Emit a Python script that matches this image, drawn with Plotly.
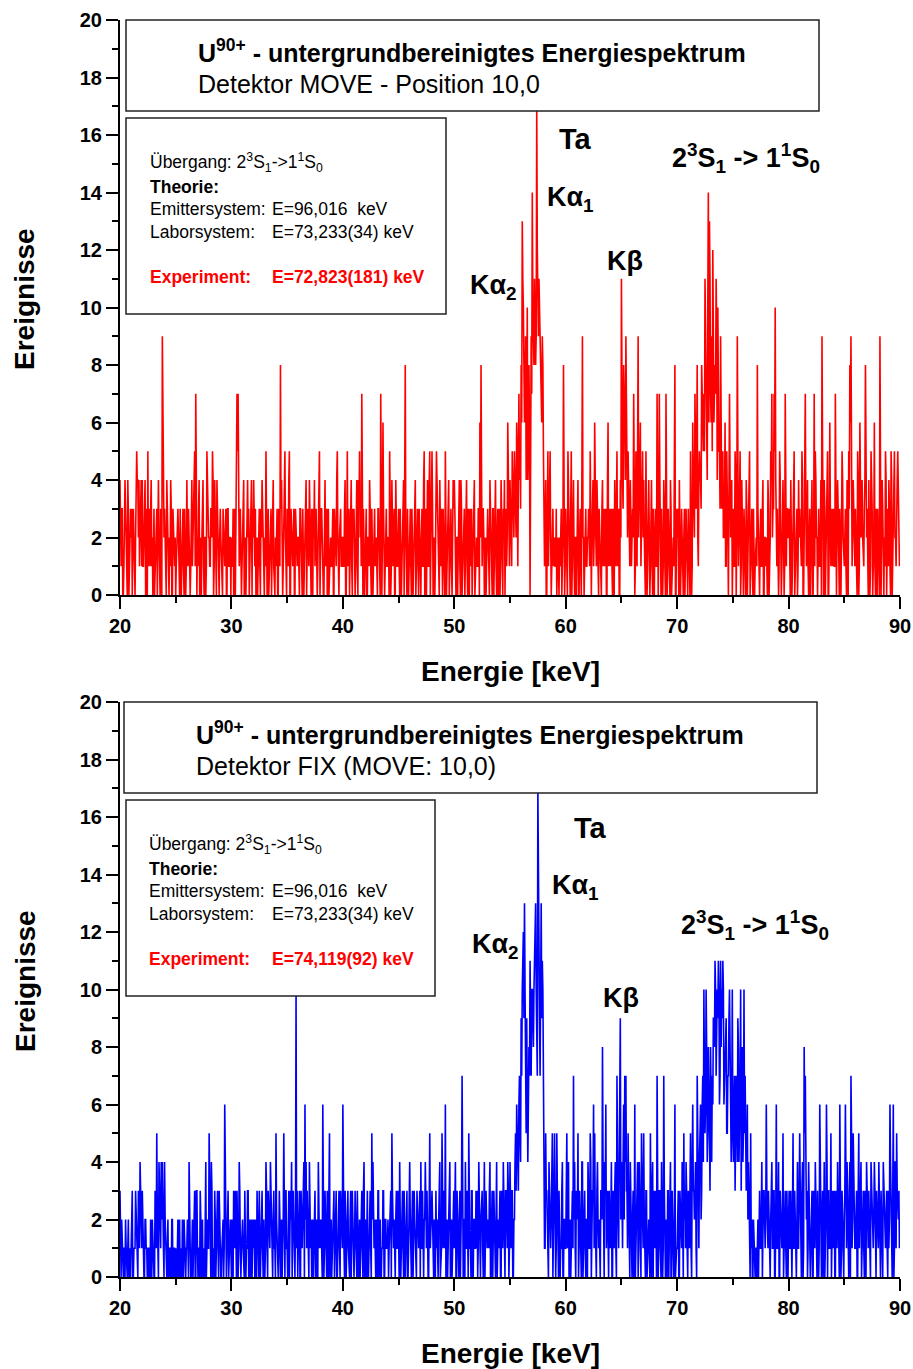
import plotly.graph_objects as go

FONT = "Liberation Sans"

# ---------------- data ----------------
energy_start = 20.0   # keV
channel_width = 0.05  # keV per channel
# counts per channel, one string per keV, digits in base 36 (a=10 ... h=17).
# "even" rows hold the channels at E = k + 0.1*i, "odd" rows the channels at E = k + 0.1*i + 0.05
move_even_rows = [
    "4130231402", "2031254424", "4130253142", "2013220296", "3142013021",
    "0231302130", "4120312570", "1420312053", "2135042430", "3102130312",
    "2103477130", "2410320143", "4102130231", "2503120310", "1302840251",
    "3150213021", "2031302412", "4130213025", "2310420312", "1302150231",
    "2140520313", "3021453702", "1302413021", "2031706213", "1250413021",
    "3021408130", "2130241302", "0315204153", "5021530412", "3150241304",
    "4120314023", "1402310241", "2136813021", "3142031403", "2041342162",
    "4253546175", "8da6974809", "e9b8hbb979", "5140525031", "2102013180",
    "3152051402", "1403092131", "2150316241", "3104213062", "1302415304",
    "b486935241", "3705193625", "4150321402", "2170713041", "7031402180",
    "2140312031", "3150627381", "54867b84ed", "79c68b4659", "3526140724",
    "2150913042", "3140251302", "1282031402", "20315737a1", "3052140713",
    "2140351204", "3150271403", "1407520314", "9140250613", "2170413052",
    "1302589142", "3150624138", "2140531602", "3190412503", "4150352452",
]
move_odd_rows = [
    "2301420313", "3120342131", "1243012310", "3120413052", "2031240312",
    "1320213021", "2301423142", "3012402132", "1324130312", "2031203120",
    "1320354201", "3021431202", "2310213420", "1320231402", "2031321320",
    "2403120312", "1320213031", "2013420130", "3102133021", "2031420312",
    "1302132402", "2140321430", "3021302132", "1320423021", "2031320413",
    "1302432021", "3021302130", "2140321402", "3103420230", "2031302123",
    "3021403120", "2130231302", "1302432103", "2031302120", "3120203241",
    "3142425343", "6b874a5657", "a8a9c9a868", "3203142132", "1310220241",
    "2041303120", "3021420312", "3102423130", "2031320413", "2130231302",
    "5374624132", "2413524132", "2031402130", "3142402130", "4120312403",
    "3021203120", "2031423524", "4375596a6b", "658779a537", "4231523430",
    "3142425130", "2031302130", "2130213021", "1402423541", "2140321432",
    "3021402312", "2140432120", "3021423120", "5031402321", "3142301241",
    "2140364231", "2041432143", "3021402130", "2042301421", "3041321431",
]
fix_even_rows = [
    "3010120101", "1301320243", "3102101012", "1025143441", "4102010201",
    "1021012010", "1041021303", "0130210421", "5140130213", "1020601312",
    "0131230411", "2030131021", "1023130312", "0413241031", "5103021503",
    "12034120a3", "1301246431", "4102130141", "1060313051", "0231302131",
    "6130210312", "0313021304", "1030215410", "2031013021", "1023512031",
    "1402130201", "4120310213", "4102411052", "3120102415", "1261024102",
    "1402031702", "4125103021", "1041230412", "2140312041", "1302413240",
    "4130256465", "9acd6948b7", "a8bd9hb7db", "6153041252", "5051301402",
    "1530213740", "2512041302", "4150365132", "2038146203", "1402317259",
    "4167735241", "2061304152", "5130215043", "1270314071", "2031402061",
    "1302105341", "3150634172", "4637a5a485", "8469b7ab6b", "ab68957a46",
    "5637485a74", "a736425201", "0120314231", "6130241306", "1402151302",
    "2130512041", "5130872041", "1302413061", "2041603152", "1302416031",
    "2613047152", "1305241302", "4130421403", "2413042130", "1620614523",
]
fix_odd_rows = [
    "1201010210", "2011203131", "1021010201", "0312031210", "2010102010",
    "0102101201", "2010102031", "1021013021", "2031021301", "0121302021",
    "2013021302", "1021302102", "2102021301", "1302130210", "2012102031",
    "0312031210", "2031302120", "1210302012", "2031201302", "1302013021",
    "2021302031", "1202102130", "2101302120", "1302013021", "2130310213",
    "0213021302", "2031203120", "1302130213", "2013203012", "3102130213",
    "2031203120", "1302130213", "3120312031", "1302031202", "2031203131",
    "2302435374", "7b9a57679a", "9aca7d9a9a", "4132031304", "2130213021",
    "3142031213", "2031403120", "3142312041", "1324031302", "2031403142",
    "3424313020", "3102413021", "2031201302", "3041302130", "1302031201",
    "2031402130", "2314324051", "5264768573", "6798a89a78", "9a7857984a",
    "4756947385", "5342301020", "1023120312", "3120413021", "2031203130",
    "3102130213", "3041523120", "2031302140", "3102431203", "2031304120",
    "3142305231", "2031402130", "3120312302", "1302031213", "2413041321",
]
x_tick_values = [20, 30, 40, 50, 60, 70, 80, 90]
y_tick_values = [0, 2, 4, 6, 8, 10, 12, 14, 16, 18, 20]


def decode(even_rows, odd_rows):
    vals = []
    for ra, rb in zip(even_rows, odd_rows):
        for ca, cb in zip(ra, rb):
            vals.append(int(ca, 36))
            vals.append(int(cb, 36))
    return vals


move_counts = decode(move_even_rows, move_odd_rows)
fix_counts = decode(fix_even_rows, fix_odd_rows)
energies = [round(energy_start + channel_width * i, 3) for i in range(len(move_counts))]

# ---------------- geometry helpers (pixel -> paper) ----------------
W, H = 913, 1369
L, R, T, B = 120, 900, 20, 1277
PW, PH = R - L, B - T


def px(x):
    return (x - L) / PW


def py(y):
    return (B - y) / PH


fig = go.Figure()
fig.add_trace(go.Scatter(x=energies, y=move_counts, mode="lines",
                         line=dict(color="#ff0000", width=1.6), xaxis="x", yaxis="y",
                         showlegend=False, hoverinfo="skip"))
fig.add_trace(go.Scatter(x=energies, y=fix_counts, mode="lines",
                         line=dict(color="#0000ff", width=1.6), xaxis="x2", yaxis="y2",
                         showlegend=False, hoverinfo="skip"))

tickfont = dict(family=FONT, size=20, color="black", weight="bold")


def xaxis_cfg(anchor):
    return dict(anchor=anchor, domain=[0, 1], range=[20, 90], tickvals=x_tick_values,
                ticks="outside", ticklen=12, tickwidth=2, tickcolor="black",
                showline=True, linewidth=2, linecolor="black", showgrid=False,
                zeroline=False, tickfont=tickfont, automargin=False,
                minor=dict(dtick=5, ticks="outside", ticklen=6, tickwidth=2, tickcolor="black"))


def yaxis_cfg(anchor, dom):
    return dict(anchor=anchor, domain=dom, range=[0, 20], tickvals=y_tick_values,
                ticks="outside", ticklen=12, tickwidth=2, tickcolor="black",
                showline=True, linewidth=2, linecolor="black", showgrid=False,
                zeroline=False, tickfont=tickfont, automargin=False,
                minor=dict(dtick=1, ticks="outside", ticklen=6, tickwidth=2, tickcolor="black"))


shapes = []
annotations = []


def box(x0, y0, x1, y1):
    shapes.append(dict(type="rect", xref="paper", yref="paper", x0=px(x0), x1=px(x1),
                       y0=py(y1), y1=py(y0), fillcolor="white",
                       line=dict(color="#222222", width=1.5), layer="above"))


def ann(text, x, y, size, color="black", xanchor="left", angle=0):
    annotations.append(dict(text=text, x=px(x), y=py(y), xref="paper", yref="paper",
                            showarrow=False, xanchor=xanchor, yanchor="middle",
                            textangle=angle,
                            font=dict(family=FONT, size=size, color=color)))


NB = "\u00a0"
panels = [
    dict(dy=0, title_box=(126, 20, 819, 111), title_x=196,
         sub="Detektor MOVE - Position 10,0", info_box=(126, 118, 446, 314), info_x=148,
         exp="E=72,823(181) keV",
         ta=(575, 139), ka1=(547, 200), ka2=(470, 288), kb=(607, 261), tr=(672, 159)),
    dict(dy=682, title_box=(124, 702, 817, 793), title_x=194,
         sub="Detektor FIX (MOVE: 10,0)", info_box=(126, 800, 435, 996), info_x=147,
         exp="E=74,119(92) keV",
         ta=(590, 828), ka1=(552, 888), ka2=(472, 947), kb=(603, 998), tr=(681, 926)),
]

for p in panels:
    box(*p["title_box"])
    box(*p["info_box"])
    ty = p["title_box"][1]
    ann("<b>U<sup>90+</sup> - untergrundbereinigtes Energiespektrum</b>", p["title_x"], ty + 31, 25)
    ann(p["sub"], p["title_x"], ty + 64, 25)
    iy = p["info_box"][1]
    ix = p["info_x"]
    ann("Übergang: 2<sup>3</sup>S<sub>1</sub>->1<sup>1</sup>S<sub>0</sub>", ix, iy + 44, 17.5)
    ann("<b>Theorie:</b>", ix, iy + 69, 17.5)
    ann("Emittersystem:", ix, iy + 91, 17.5)
    ann("E=96,016" + NB + NB + "keV", 270, iy + 91, 17.5)
    ann("Laborsystem:", ix, iy + 114, 17.5)
    ann("E=73,233(34) keV", 270, iy + 114, 17.5)
    ann("<b>Experiment:</b>", ix, iy + 159, 17.5, color="#ff0000")
    ann("<b>" + p["exp"] + "</b>", 270, iy + 159, 17.5, color="#ff0000")
    ann("<b>Ta</b>", p["ta"][0], p["ta"][1], 29, xanchor="center")
    ann("<b>Kα<sub>1</sub></b>", p["ka1"][0] - 2, p["ka1"][1] - 1, 27)
    ann("<b>Kα<sub>2</sub></b>", p["ka2"][0] - 2, p["ka2"][1] - 1, 27)
    ann("<b>Kβ</b>", p["kb"][0] - 2, p["kb"][1], 27)
    ann("<b>2<sup>3</sup>S<sub>1</sub> -> 1<sup>1</sup>S<sub>0</sub></b>", p["tr"][0] - 2, p["tr"][1] - 1, 27)
    ann("<b>Ereignisse</b>", 25, 299 + p["dy"], 28, xanchor="center", angle=-90)
    ann("<b>Energie [keV]</b>", 510, 671 + p["dy"], 28, xanchor="center")

top_dom = [py(595), 1.0]
bot_dom = [0.0, (1277 - 702) / PH]

fig.update_layout(
    width=W, height=H,
    margin=dict(l=L, r=W - R, t=T, b=H - B, pad=0, autoexpand=False),
    paper_bgcolor="white", plot_bgcolor="white",
    xaxis=xaxis_cfg("y"), yaxis=yaxis_cfg("x", top_dom),
    xaxis2=xaxis_cfg("y2"), yaxis2=yaxis_cfg("x2", bot_dom),
    shapes=shapes, annotations=annotations,
    font=dict(family=FONT, color="black"),
    showlegend=False,
)

fig.write_html("out.html", config={"displayModeBar": False},
               post_script="document.body.style.margin='0';document.body.style.padding='0';")
